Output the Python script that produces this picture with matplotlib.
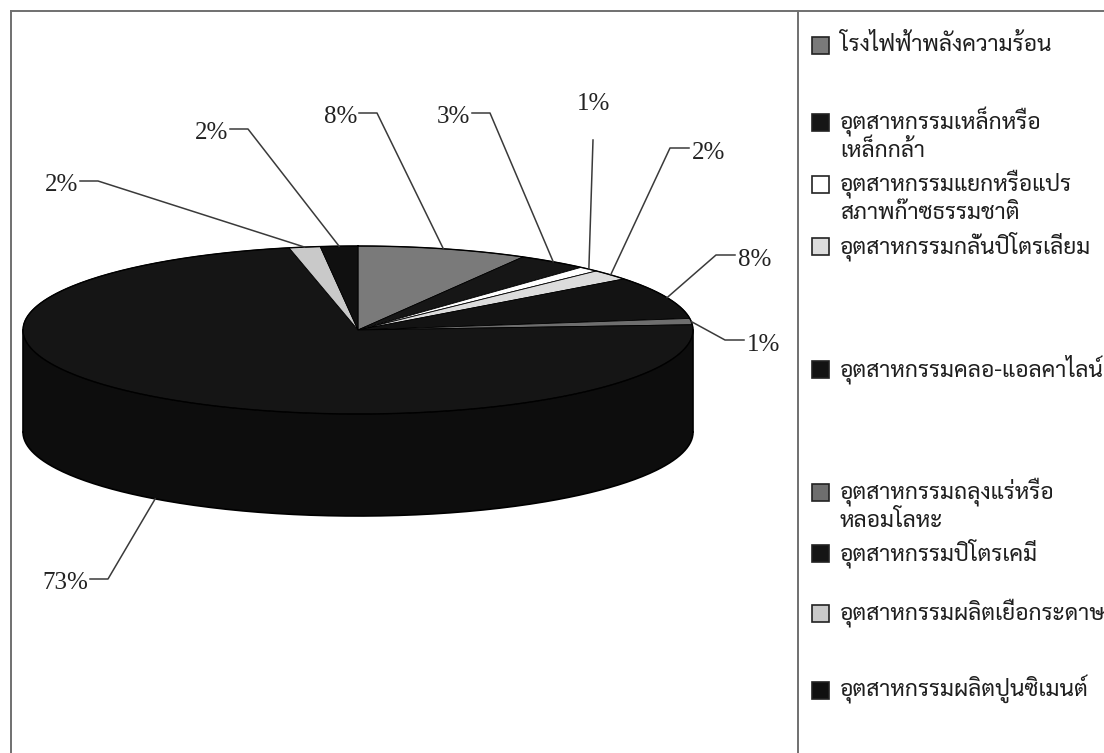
import matplotlib
matplotlib.use("Agg")
import numpy as np
import matplotlib.pyplot as plt
from matplotlib.patches import Polygon, Rectangle

# categories, clockwise from 12 o'clock
categories = [
    "โรงไฟฟ้าพลังความร้อน",
    "อุตสาหกรรมเหล็กหรือ\nเหล็กกล้า",
    "อุตสาหกรรมแยกหรือแปร\nสภาพก๊าซธรรมชาติ",
    "อุตสาหกรรมกลั่นปิโตรเลียม",
    "อุตสาหกรรมคลอ-แอลคาไลน์",
    "อุตสาหกรรมถลุงแร่หรือ\nหลอมโลหะ",
    "อุตสาหกรรมปิโตรเคมี",
    "อุตสาหกรรมผลิตเยื่อกระดาษ",
    "อุตสาหกรรมผลิตปูนซิเมนต์",
]
shares = [8.2, 3.4, 1.0, 2.0, 8.2, 1.2, 72.7, 1.5, 1.8]
colors = ["#7a7a7a", "#161616", "#ffffff", "#dcdcdc", "#131313",
          "#6e6e6e", "#151515", "#c9c9c9", "#101010"]

# label text anchors (pixels) and which side the text sits on
label_layout = [
    ("L", 357, 117), ("L", 470, 117), ("T", 594, 104),
    ("R", 692, 153), ("R", 738, 260), ("R", 747, 345),
    ("L", 88, 583), ("L", 78, 185), ("L", 228, 133),
]
# legend rows (pixels): square centre y, one per category
legend_y = [45, 122, 184, 246, 369, 492, 553, 613, 690]

THAI = ["Sarabun", "Noto Sans Thai", "DejaVu Sans"]
SERIF = ["Liberation Serif", "DejaVu Serif"]

W, H = 1104, 753
fig = plt.figure(figsize=(W / 100, H / 100), dpi=100)
ax = fig.add_axes([0, 0, 1, 1])
ax.set_xlim(0, W)
ax.set_ylim(H, 0)
ax.axis("off")

# pie geometry
cx, cy, rx, ry, depth = 358, 330, 335, 84, 102


def rim(theta):
    t = np.radians(theta)
    return cx + rx * np.sin(t), cy - ry * np.cos(t)


def darker(c, f=0.8):
    rgb = np.array(matplotlib.colors.to_rgb(c))
    return tuple(rgb * f)


bounds = np.concatenate([[0], np.cumsum(shares)]) / np.sum(shares) * 360

# side wall (front half only)
for i, col in enumerate(colors):
    lo = max(bounds[i], 90)
    hi = min(bounds[i + 1], 270)
    if lo >= hi:
        continue
    ts = np.linspace(lo, hi, 200)
    xs, ys = rim(ts)
    pts = np.column_stack([np.r_[xs, xs[::-1]], np.r_[ys, ys[::-1] + depth]])
    ax.add_patch(Polygon(pts, closed=True, facecolor=darker(col, 0.6),
                         edgecolor="none", zorder=1))
ts = np.linspace(90, 270, 300)
xs, ys = rim(ts)
ax.plot(xs, ys + depth, color="black", lw=1.2, zorder=2)
ax.plot([xs[0], xs[0]], [ys[0], ys[0] + depth], color="black", lw=1.2, zorder=2)
ax.plot([xs[-1], xs[-1]], [ys[-1], ys[-1] + depth], color="black", lw=1.2, zorder=2)

# top face
for i, col in enumerate(colors):
    ts = np.linspace(bounds[i], bounds[i + 1], 200)
    xs, ys = rim(ts)
    pts = np.column_stack([np.r_[cx, xs], np.r_[cy, ys]])
    ax.add_patch(Polygon(pts, closed=True, facecolor=col, edgecolor="black",
                         lw=0.6, zorder=3))
ts = np.linspace(0, 360, 400)
xs, ys = rim(ts)
ax.plot(xs, ys, color="black", lw=1.0, zorder=4)

# data labels with leader lines
for i, v in enumerate(shares):
    side, tx, ty = label_layout[i]
    mid = (bounds[i] + bounds[i + 1]) / 2
    px, py = rim(mid)
    if 90 < mid < 270:
        py += depth
    txt = f"{int(v + 0.5)}%"
    lc = "#3a3a3a"
    if side == "L":
        ax.text(tx, ty, txt, ha="right", va="center", fontsize=18,
                family=SERIF, color="#222222", zorder=5)
        ax.plot([tx + 2, tx + 20, px], [ty - 4, ty - 4, py], color=lc, lw=1.1, zorder=5)
    elif side == "R":
        ax.text(tx, ty, txt, ha="left", va="center", fontsize=18,
                family=SERIF, color="#222222", zorder=5)
        ax.plot([tx - 3, tx - 22, px], [ty - 5, ty - 5, py], color=lc, lw=1.1, zorder=5)
    else:
        ax.text(tx, ty, txt, ha="center", va="center", fontsize=18,
                family=SERIF, color="#222222", zorder=5)
        ax.plot([tx - 1, px], [ty + 36, py], color=lc, lw=1.1, zorder=5)

# frame lines
fc = "#707070"
ax.plot([11, W], [11, 11], color=fc, lw=1.4)
ax.plot([11, 11], [11, H], color=fc, lw=1.4)
ax.plot([798, 798], [11, H], color=fc, lw=1.4)

# legend
for i, (name, col) in enumerate(zip(categories, colors)):
    y = legend_y[i]
    ax.add_patch(Rectangle((812, y - 8), 17, 17, facecolor=col,
                           edgecolor="#222222", lw=1.2, zorder=5))
    for k, line in enumerate(name.split("\n")):
        ax.text(840, y + k * 29, line, ha="left", va="center", fontsize=16.4,
                family=THAI, color="#1e1e1e", zorder=5)

fig.savefig("out.png", dpi=100, facecolor="white")
